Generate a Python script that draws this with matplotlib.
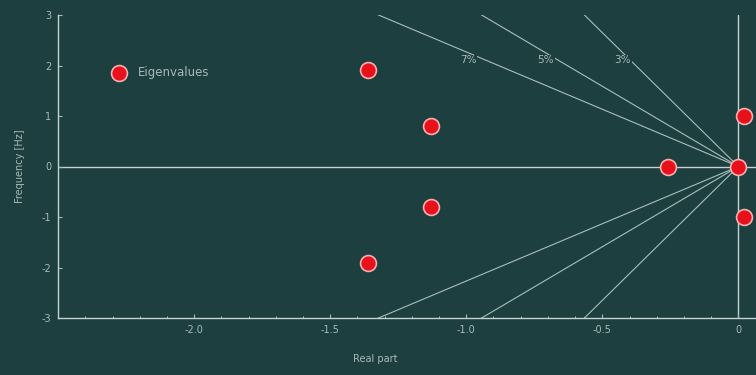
import numpy as np
import matplotlib
matplotlib.use("Agg")
import matplotlib.pyplot as plt

plt.rcParams["axes.unicode_minus"] = False

# Data
real_part = [-1.36, -1.13, -1.13, -1.36, -0.26, 0.0, 0.02, 0.02]
freq_hz = [1.92, 0.80, -0.80, -1.92, 0.0, 0.0, 1.00, -1.00]
damping_ratios = [0.07, 0.05, 0.03]
damping_labels = ["7%", "5%", "3%"]
x_ticks = [-2.0, -1.5, -1.0, -0.5, 0.0]
x_ticklabels = ["-2.0", "-1.5", "-1.0", "-0.5", "0"]
y_ticks = [-3, -2, -1, 0, 1, 2, 3]

bg = "#1d3f3f"
fg = "#c5d3d3"
txt = "#a9b9b9"

fig = plt.figure(figsize=(7.56, 3.75), dpi=100, facecolor=bg)
ax = fig.add_axes([0.077, 0.152, 0.923, 0.808], facecolor=bg)

ax.set_xlim(-2.5, 0.065)
ax.set_ylim(-3, 3)

# zero lines
ax.axhline(0, color=fg, lw=1.0, zorder=1)
ax.axvline(0, color=fg, lw=1.0, zorder=1)

# constant damping lines
ylim = 3.0
for z, lab in zip(damping_ratios, damping_labels):
    k = -z / np.sqrt(1 - z ** 2) * 2 * np.pi
    ys = np.array([-ylim, 0, ylim])
    xs = k * np.abs(ys)
    ax.plot(xs, ys, color=fg, lw=0.8, alpha=0.85, zorder=1)
    ax.text(k * 2.25, 2.1, lab, color=txt, fontsize=7.5,
            ha="center", va="center", zorder=2,
            bbox=dict(facecolor=bg, edgecolor="none", pad=0.5))

ax.scatter(real_part, freq_hz, s=130, color="#e8101a", edgecolor="#f3b0b0",
           linewidth=1.2, zorder=3, label="Eigenvalues")

leg = ax.legend(loc="center left", frameon=False, fontsize=8.5,
                bbox_to_anchor=(0.055, 0.809), handletextpad=0.6,
                labelcolor=txt)

ax.set_xticks(x_ticks)
ax.set_xticklabels(x_ticklabels)
ax.set_yticks(y_ticks)
ax.set_xticks(np.arange(-2.5, 0.05, 0.1), minor=True)
ax.tick_params(colors=txt, labelsize=7, length=3, direction="in", pad=5)
ax.tick_params(which="minor", length=1.5, direction="in", colors=fg)
for s in ["top", "right"]:
    ax.spines[s].set_visible(False)
for s in ["left", "bottom"]:
    ax.spines[s].set_color(fg)
    ax.spines[s].set_linewidth(1.0)

ax.set_xlabel("Real part", color=txt, fontsize=7)
ax.xaxis.set_label_coords(0.454, -0.12)
ax.set_ylabel("Frequency [Hz]", color=txt, fontsize=7, labelpad=12)

fig.savefig("out.png", dpi=100, facecolor=bg)
